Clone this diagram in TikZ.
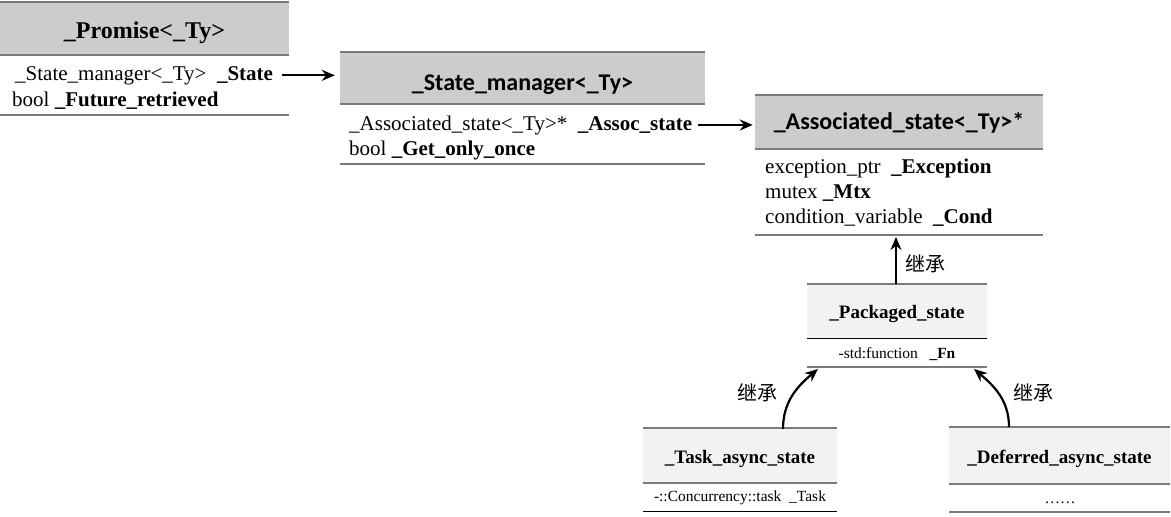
\documentclass[tikz,border=0pt]{standalone}
\usepackage{fontspec}
\setmainfont{Liberation Serif}
\newfontfamily\calib{Carlito}
\newfontfamily\cjk{Noto Sans CJK SC}
\usetikzlibrary{arrows.meta}
\definecolor{hdrgray}{HTML}{CCCCCC}
\definecolor{hdrlight}{HTML}{F2F2F2}
\definecolor{rulegray}{HTML}{7A7A7A}
\begin{document}
\begin{tikzpicture}[x=1pt,y=-1pt,
  hdr/.style={draw=none,inner sep=0pt,minimum width=#1,text depth=0pt},
  rulel/.style={draw=rulegray,line width=2pt},
  ruled/.style={draw=black,line width=1pt},
  row/.style={anchor=base west,inner sep=0pt,font=\fontsize{21}{24}\selectfont},
  srow/.style={anchor=base,inner sep=0pt,font=\fontsize{15.5}{18}\selectfont},
  arr/.style={draw=black,line width=2.2pt,-{Stealth[length=13pt,width=11pt]}},
  inh/.style={inner sep=0pt,font=\cjk\fontsize{20}{22}\selectfont}]
\useasboundingbox (0,0) rectangle (1171,517);

% _Promise<_Ty>
\node[hdr=289,minimum height=53,text height=19.5pt,fill=hdrgray,font=\bfseries\fontsize{24}{28}\selectfont] (pr) at (144.5,28.5) {\_Promise<\_Ty>};
\node[row] (pr1) at (15,80) {\_State\_manager<\_Ty>\ \ \textbf{\_State}};
\node[row] (pr2) at (12,106) {bool \textbf{\_Future\_retrieved}};
\coordinate (prb) at (0,115);
\draw[rulel] (pr.north west) -- (pr.north east);
\draw[rulel] (pr.south west) -- (pr.south east);
\draw[rulel] (prb) -- (prb -| pr.east);

% _State_manager<_Ty>
\node[hdr=365,minimum height=51,text height=24pt,fill=hdrgray,font=\calib\bfseries\fontsize{24}{28}\selectfont] (sm) at (522.5,78) {\_State\_manager<\_Ty>};
\node[row] (sm1) at (349,130) {\_Associated\_state<\_Ty>*\ \ \textbf{\_Assoc\_state}};
\node[row] (sm2) at (349,155) {bool \textbf{\_Get\_only\_once}};
\coordinate (smb) at (340,164);
\draw[rulel] (sm.north west) -- (sm.north east);
\draw[rulel] (sm.south west) -- (sm.south east);
\draw[rulel] (smb) -- (smb -| sm.east);

% _Associated_state<_Ty>*
\node[hdr=288,minimum height=54,text height=14pt,fill=hdrgray,font=\calib\bfseries\fontsize{24}{28}\selectfont] (as) at (899,122) {\_Associated\_state<\_Ty>*};
\node[row] (as1) at (765,173) {exception\_ptr\ \ \textbf{\_Exception}};
\node[row] (as2) at (765,198) {mutex \textbf{\_Mtx}};
\node[row] (as3) at (765,223) {condition\_variable\ \ \textbf{\_Cond}};
\coordinate (asb) at (755,235);
\draw[rulel] (as.north west) -- (as.north east);
\draw[rulel] (as.south west) -- (as.south east);
\draw[rulel] (asb) -- (asb -| as.east);

% _Packaged_state
\node[hdr=180,minimum height=54,text height=14pt,fill=hdrlight,font=\bfseries\fontsize{19}{22}\selectfont] (pk) at (897,311) {\_Packaged\_state};
\node[srow] (pk1) at (897,358) {-std:function\ \ \ \textbf{\_Fn}};
\coordinate (pkb) at (807,367);
\draw[rulel] (pk.north west) -- (pk.north east);
\draw[ruled] (pk.south west) -- (pk.south east);
\draw[rulel] (pkb) -- (pkb -| pk.east);

% _Task_async_state
\node[hdr=194,minimum height=54,text height=15.6pt,fill=hdrlight,font=\bfseries\fontsize{19}{22}\selectfont] (ta) at (740,455.5) {\_Task\_async\_state};
\node[srow] (ta1) at (740,501) {-::Concurrency::task\ \ \_Task};
\coordinate (tab) at (643,511);
\draw[rulel] (ta.north west) -- (ta.north east);
\draw[rulel] (ta.south west) -- (ta.south east);
\draw[ruled] (tab) -- (tab -| ta.east);

% _Deferred_async_state
\node[hdr=221,minimum height=57,text height=16pt,fill=hdrlight,font=\bfseries\fontsize{19}{22}\selectfont] (de) at (1059.5,455.3) {\_Deferred\_async\_state};
\node[srow] (de1) at (1060,503) {……};
\coordinate (deb) at (949,512);
\draw[rulel] (de.north west) -- (de.north east);
\draw[rulel] (de.south west) -- (de.south east);
\draw[rulel] (deb) -- (deb -| de.east);

% connectors
\draw[arr,shorten >=5pt] ([xshift=9pt]pr1.east) -- (pr1.east -| sm.west);
\draw[arr,shorten >=2pt] ([xshift=6pt]sm1.east) -- (sm1.east -| as.west);
\coordinate (pktop) at (896,284);
\coordinate (astgt) at (896,237);
\draw[arr] (pktop) -- (astgt);
\node[inh] (l1) at (925,264) {继承};

\coordinate (tatop) at (783,429);
\coordinate (pkl) at (818,369);
\draw[arr] (tatop) to[out=90,in=-140] (pkl);
\node[inh] (l2) at (757,393) {继承};

\coordinate (detop) at (1009,427);
\coordinate (pkr) at (974,369);
\draw[arr] (detop) to[out=90,in=-40] (pkr);
\node[inh] (l3) at (1033,393) {继承};
\end{tikzpicture}
\end{document}
